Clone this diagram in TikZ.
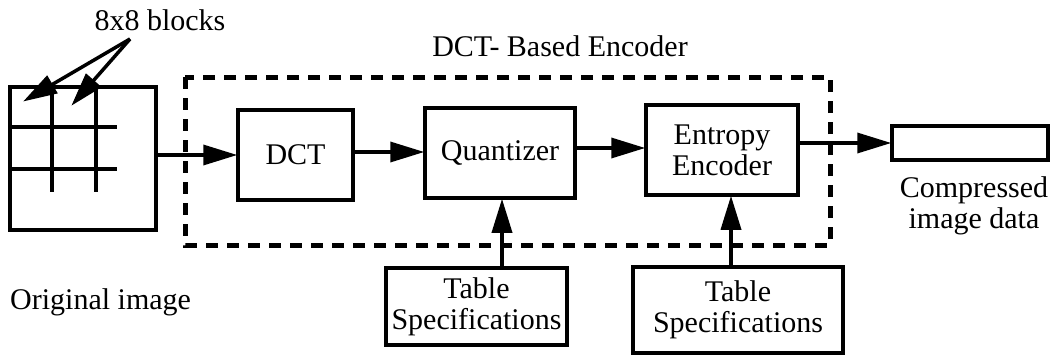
\documentclass[tikz,border=0pt]{standalone}
\usepackage{fontspec}
\setmainfont{Liberation Serif}
\usetikzlibrary{arrows.meta}
\begin{document}
\begin{tikzpicture}[x=1pt,y=-1pt,
  lbl/.style={font=\fontsize{30}{31}\selectfont, align=center, inner sep=0pt},
  blk/.style={draw, line width=3.5pt, inner sep=0pt, font=\fontsize{30}{31}\selectfont, align=center},
  conn/.style={line width=3.5pt, -{Triangle[length=34pt,width=20pt]}, shorten >=-1pt},
  frame/.style={line width=5pt, dash pattern=on 12pt off 9pt}]
\useasboundingbox (0,0) rectangle (1055,356);
% original image with its block grid
\node[blk, minimum width=146pt, minimum height=143pt] (orig) at (83,158.5) {};
\draw[line width=3.5pt] (10,127) -- (117,127) (10,169) -- (117,169)
  (52,87) -- (52,192) (96,87) -- (96,192);
\node[lbl, anchor=west] (origlbl) at (10,302) {Original image};
\node[lbl] (blocks) at (160,20) {8x8 blocks};
\coordinate (bl) at (130,39);
\coordinate (t1) at (24,101);
\coordinate (t2) at (72,105);
\draw[conn] (bl) -- (t1);
\draw[conn] (bl) -- (t2);
% encoder frame
\draw[frame] (185,77) rectangle (830,245);
\node[lbl] (enc) at (560,46) {DCT- Based Encoder};
% processing blocks
\node[blk, minimum width=115pt, minimum height=90pt] (dct) at (295.5,155) {DCT};
\node[blk, minimum width=150pt, minimum height=90pt] (quant) at (500,153) {Quantizer};
\node[blk, minimum width=152pt, minimum height=90pt] (ent) at (722,150) {Entropy\\Encoder};
\node[blk, minimum width=156pt, minimum height=34pt] (out) at (970,143) {};
\node[lbl] (outlbl) at (974,206) {Compressed\\image data};
\node[blk, minimum width=181pt, minimum height=77pt] (tab1) at (476.5,306.5) {Table\\Specifications};
\node[blk, minimum width=210pt, minimum height=86pt] (tab2) at (738,310) {Table\\Specifications};
% data flow
\draw[conn] (orig.east |- 0,155) -- (dct.west |- 0,155);
\draw[conn] (dct.east |- 0,152) -- (quant.west |- 0,152);
\draw[conn] (quant.east |- 0,148) -- (ent.west |- 0,148);
\draw[conn] (ent.east |- out.west) -- (out.west);
\draw[conn] (tab1.north -| 502,0) -- (quant.south -| 502,0);
\draw[conn] (tab2.north -| 731,0) -- (ent.south -| 731,0);
\end{tikzpicture}
\end{document}
